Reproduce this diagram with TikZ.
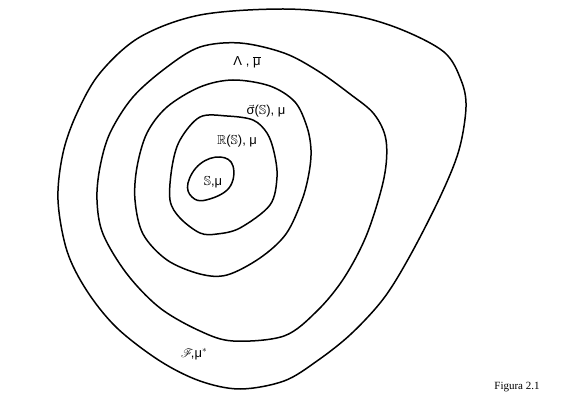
\documentclass[tikz,border=0pt]{standalone}
\usepackage{amssymb}
\usepackage{mathrsfs}
\usepackage{fontspec}
\newfontfamily\figfont{Liberation Serif}
\newfontfamily\lblfont{Liberation Sans}
\newcommand\mybar[1]{\ensuremath{\overline{\hbox{#1}}}}
\newcommand\myvec[1]{\ensuremath{\vec{\hbox{#1}}}}
\begin{document}
\begin{tikzpicture}[x=1pt,y=-1pt,
  region/.style={line width=1.5pt, black},
  lbl/.style={font=\lblfont\fontsize{13}{15}\selectfont, inner sep=1pt}]
\useasboundingbox (0,0) rectangle (568,403);
% outer region F
\draw[region] plot[smooth cycle, tension=0.55] coordinates {
 (58,200) (63,153) (77,113) (100,73) (140,37) (200,15) (283,9) (351,15)
 (400,29) (444,52) (461,80) (466,107) (459,150) (441,195)
 (411,254) (384,298) (351,334) (317,361) (284,381) (240,389) (200,381)
 (160,361) (117,328) (87,291) (67,251)};
% Lambda region
\draw[region] plot[smooth cycle, tension=0.55] coordinates {
 (97,200) (100,167) (110,133) (133,97) (167,67) (200,47) (240,43) (284,53)
 (318,71) (350,94) (374,114) (386,140) (384,178)
 (367,234) (344,278) (317,311) (284,336) (233,341) (200,331) (160,308)
 (127,274) (103,234)};
% sigma region
\draw[region] plot[smooth cycle, tension=0.55] coordinates {
 (135,200) (137,167) (147,133) (167,107) (200,87) (233,80) (270,86) (295,102)
 (307,127) (311,150) (309,173) (302,200) (286,234)
 (260,258) (227,275) (200,274) (167,260) (143,234)};
% R region
\draw[region] plot[smooth cycle, tension=0.55] coordinates {
 (170,200) (172,167) (180,140) (200,117) (227,116) (253,120) (267,133)
 (274,152) (277,177) (270,205) (240,228) (217,234) (200,233)
 (180,218)};
% S region
\draw[region] plot[smooth cycle, tension=0.7] coordinates {
 (188,183) (200,164) (220,157) (233,166) (229,188) (206,200) (192,197)};
% labels
\node[lbl] (lam) at (247,62) {Λ , \mybar{μ}};
\node[lbl] (sig) at (266,111) {\myvec{σ}($\mathbb{S}$), μ};
\node[lbl] (rs) at (237,141) {$\mathbb{R}$($\mathbb{S}$), μ};
\node[lbl] (ss) at (213,182) {$\mathbb{S}$,μ};
\node[lbl] (ff) at (194,354) {$\mathscr{F}$\!,μ$^{*}$};
\node[font=\figfont\fontsize{11}{13}\selectfont, inner sep=1pt] (fig) at (517,387) {Figura 2.1};
\end{tikzpicture}
\end{document}
